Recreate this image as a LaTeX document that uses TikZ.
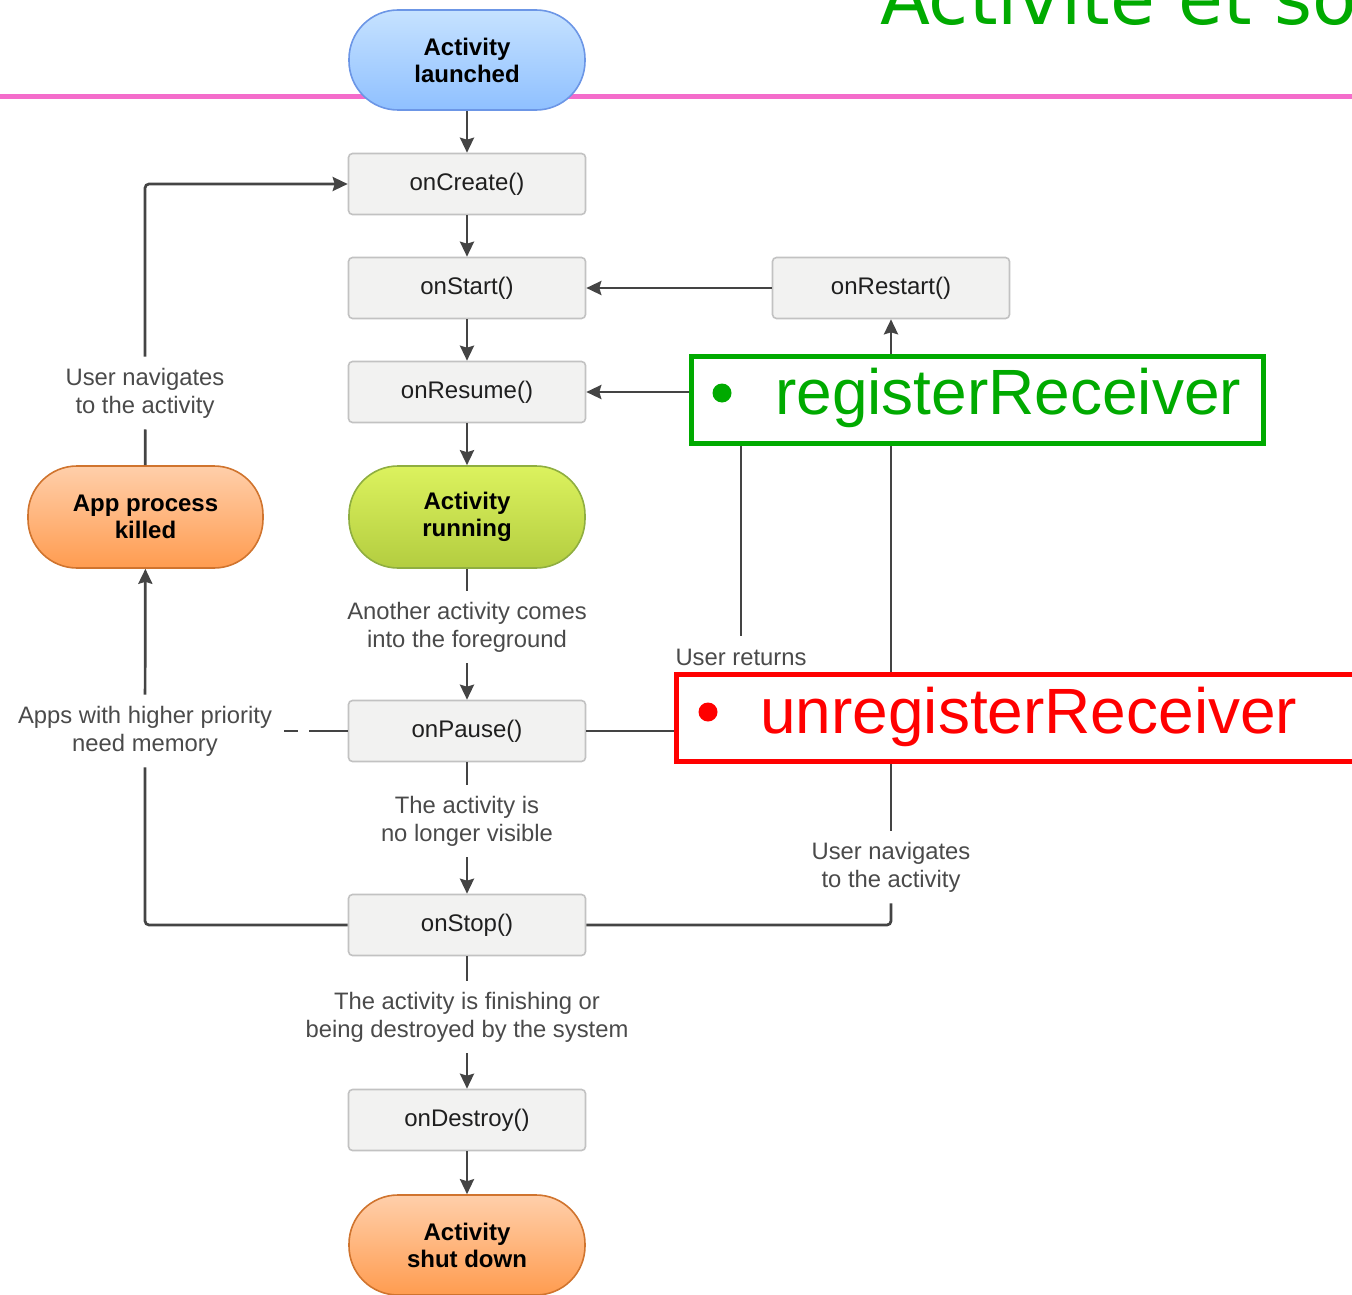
\documentclass[tikz,border=0pt]{standalone}
\usepackage{fontspec}
\setmainfont{Liberation Sans}
\newfontfamily\titlefont{DejaVu Sans}
\usetikzlibrary{arrows.meta}

\definecolor{linegray}{HTML}{444444}
\definecolor{boxedge}{HTML}{C2C2C2}
\definecolor{boxfill}{HTML}{F2F2F1}
\definecolor{lblgray}{HTML}{4A4A4A}
\definecolor{bluetop}{HTML}{C6E2FF}
\definecolor{bluebot}{HTML}{8FC0FF}
\definecolor{blueedge}{HTML}{6C96E6}
\definecolor{greentop}{HTML}{DCF25E}
\definecolor{greenbot}{HTML}{B3CD40}
\definecolor{greenedge}{HTML}{8FAE40}
\definecolor{orangetop}{HTML}{FFCFAA}
\definecolor{orangebot}{HTML}{FF9C50}
\definecolor{orangeedge}{HTML}{D0742E}
\definecolor{grn}{RGB}{0,170,0}
\definecolor{rd}{RGB}{255,0,0}
\definecolor{pink}{HTML}{F46CCB}

\begin{document}
\begin{tikzpicture}[x=1pt,y=-1pt,
  conn/.style={draw=linegray, line width=2.7pt,
    -{Stealth[length=15pt,width=14pt,inset=2pt]}},
  plain/.style={draw=linegray, line width=2.7pt},
  method/.style={rectangle, rounded corners=4pt, draw=boxedge, line width=1.6pt,
    fill=boxfill, minimum width=237pt, minimum height=61pt, inner sep=0pt,
    font=\fontsize{24}{27}\selectfont, text=black!88},
  state/.style={rectangle, rounded corners=49pt, line width=1.6pt,
    minimum width=236pt, minimum height=100pt, inner sep=0pt, align=center,
    font=\bfseries\fontsize{24}{27}\selectfont, text=black},
  bluestate/.style={state, draw=blueedge, top color=bluetop, bottom color=bluebot},
  greenstate/.style={state, draw=greenedge, top color=greentop, bottom color=greenbot},
  orangestate/.style={state, draw=orangeedge, top color=orangetop, bottom color=orangebot},
  lbl/.style={align=center, font=\fontsize{23.8}{28}\selectfont, text=lblgray,
    inner xsep=12pt, inner ysep=11pt},
  recvbox/.style={rectangle, line width=5pt, fill=white, inner sep=0pt},
  recvtext/.style={anchor=base west, inner sep=0pt, font=\fontsize{64}{70}\selectfont},
  dot/.style={circle, inner sep=0pt, minimum size=19pt}
]
\path[use as bounding box] (0,0) rectangle (1352,1295);
\clip (0,0) rectangle (1352,1295);

% heading and rule
\node[anchor=base west, inner sep=0pt, text=grn,
  font=\titlefont\fontsize{73}{80}\selectfont] (title) at (880,25) {Activité et so};
\draw[pink, line width=5pt] (0,97) -- (1352,97);

% lifecycle column
\node[bluestate] (launched) at (467,60) {Activity\\launched};
\node[method] (create)  at (467,184)  {onCreate()};
\node[method] (start)   at (467,288)  {onStart()};
\node[method] (resume)  at (467,392)  {onResume()};
\node[greenstate, minimum height=102pt] (running) at (467,517) {Activity\\running};
\node[method] (pause)   at (467,731)  {onPause()};
\node[method] (stop)    at (467,925)  {onStop()};
\node[method] (destroy) at (467,1120) {onDestroy()};
\node[orangestate] (shutdown) at (467,1245) {Activity\\shut down};

\node[orangestate, minimum width=235pt, minimum height=102pt] (killed) at (145.5,517) {App process\\killed};
\node[method] (restart) at (891,288) {onRestart()};

% transition labels
\node[lbl] (anotherL) at (467,627)  {Another activity comes\\into the foreground};
\node[lbl] (invisL)   at (467,821)  {The activity is\\no longer visible};
\node[lbl] (finishL)  at (467,1017) {The activity is finishing or\\being destroyed by the system};
\node[lbl] (memL)     at (145,731)  {Apps with higher priority\\need memory};
\node[lbl] (navL)     at (145,393)  {User navigates\\to the activity};
\node[lbl] (navR)     at (891,867)  {User navigates\\to the activity};
\node[lbl, inner ysep=13pt] (retL) at (741,657) {User returns};

% main sequence
\draw[conn] (launched) -- (create);
\draw[conn] (create) -- (start);
\draw[conn] (start) -- (resume);
\draw[conn] (resume) -- (running);
\draw[plain] (running) -- (anotherL);
\draw[conn] (anotherL) -- (pause);
\draw[plain] (pause) -- (invisL);
\draw[conn] (invisL) -- (stop);
\draw[plain] (stop) -- (finishL);
\draw[conn] (finishL) -- (destroy);
\draw[conn] (destroy) -- (shutdown);

% restart loop
\draw[conn] (restart) -- (start);
\draw[plain, rounded corners=4pt] (stop) -| (navR);
\draw[conn] (navR) -- (restart);

% user returns loop
\draw[plain] (pause) -| (retL);
\draw[conn] (retL) |- (resume);

% process killed loop
\draw[plain, rounded corners=4pt] (stop) -| (memL);
\draw[conn] (memL) -- (killed);
\draw[plain, dash pattern=on 14pt off 11pt on 80pt] (memL.east) -- (pause.west);
\draw[plain] (killed) -- (navL);
\draw[conn, rounded corners=4pt] (navL) |- (create);

% receiver callouts
\node[recvbox, draw=grn, minimum width=572pt, minimum height=87pt] (regBox) at (977.5,400) {};
\node[dot, fill=grn] (regDot) at (722,393) {};
\node[recvtext, text=grn] (regText) at (775,414) {registerReceiver};

\node[recvbox, draw=rd, minimum width=724pt, minimum height=87pt] (unregBox) at (1038.5,718) {};
\node[dot, fill=rd] (unregDot) at (708,712) {};
\node[recvtext, text=rd] (unregText) at (760,733) {unregisterReceiver};
\end{tikzpicture}
\end{document}
